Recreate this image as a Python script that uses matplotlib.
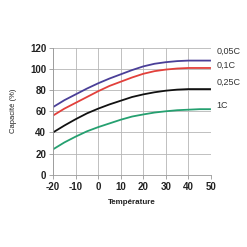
import numpy as np
import matplotlib.pyplot as plt

plt.rcParams['font.family'] = ['Liberation Sans', 'DejaVu Sans']
plt.rcParams['axes.unicode_minus'] = False

# données
temp = [-20, -15, -10, -5, 0, 5, 10, 15, 20, 25, 30, 35, 40, 45, 50]
cap_005 = [64, 70.5, 76, 81.5, 86.5, 91, 95, 99, 102.5, 105, 106.5, 107.5, 108, 108, 108]
cap_01 = [56, 62.5, 68, 73.5, 79, 84, 88, 92, 95.5, 98, 99.5, 100.5, 101, 101, 101]
cap_025 = [40, 46.5, 52.5, 58, 62.5, 66.5, 70, 73.5, 76, 78, 79.5, 80.5, 81, 81, 81]
cap_1 = [24, 30.5, 36, 41, 45, 48.5, 52, 55, 57, 58.8, 60, 61, 61.5, 62, 62]

labels = ['0,05C', '0,1C', '0,25C', '1C']
label_y = [117, 104, 87, 65]
colors = ['#4a3f98', '#e2403b', '#111111', '#25a070']

fig = plt.figure(figsize=(2.47, 2.47), dpi=100)
ax = fig.add_axes([0.215, 0.293, 0.639, 0.513])

for serie, c in zip([cap_005, cap_01, cap_025, cap_1], colors):
    ax.plot(temp, serie, color=c, lw=1.3, solid_capstyle='butt')

for lab, ly in zip(labels, label_y):
    ax.text(52.6, ly, lab, fontsize=6.5, color='#333333', va='center', ha='left', clip_on=False)

ax.set_xlim(-20, 50)
ax.set_ylim(0, 120)
ax.set_xticks(range(-20, 51, 10))
ax.set_yticks(range(0, 121, 20))
ax.grid(True, color='#b5b5b5', lw=0.6)
ax.set_axisbelow(True)
for s in ['top', 'right']:
    ax.spines[s].set_visible(False)
for s in ['left', 'bottom']:
    ax.spines[s].set_color('#999999')
    ax.spines[s].set_linewidth(0.6)
ax.tick_params(length=3, width=0.6, color='#999999', labelsize=7, pad=2)
for t in ax.get_xticklabels() + ax.get_yticklabels():
    t.set_fontweight('bold')
    t.set_color('#222222')

ax.set_xlabel('Température', fontsize=5.8, fontweight='bold', labelpad=5, color='#222222')
ax.set_ylabel('Capacité (%)', fontsize=5.5, labelpad=9, color='#222222')

plt.savefig('out.png', dpi=100)
